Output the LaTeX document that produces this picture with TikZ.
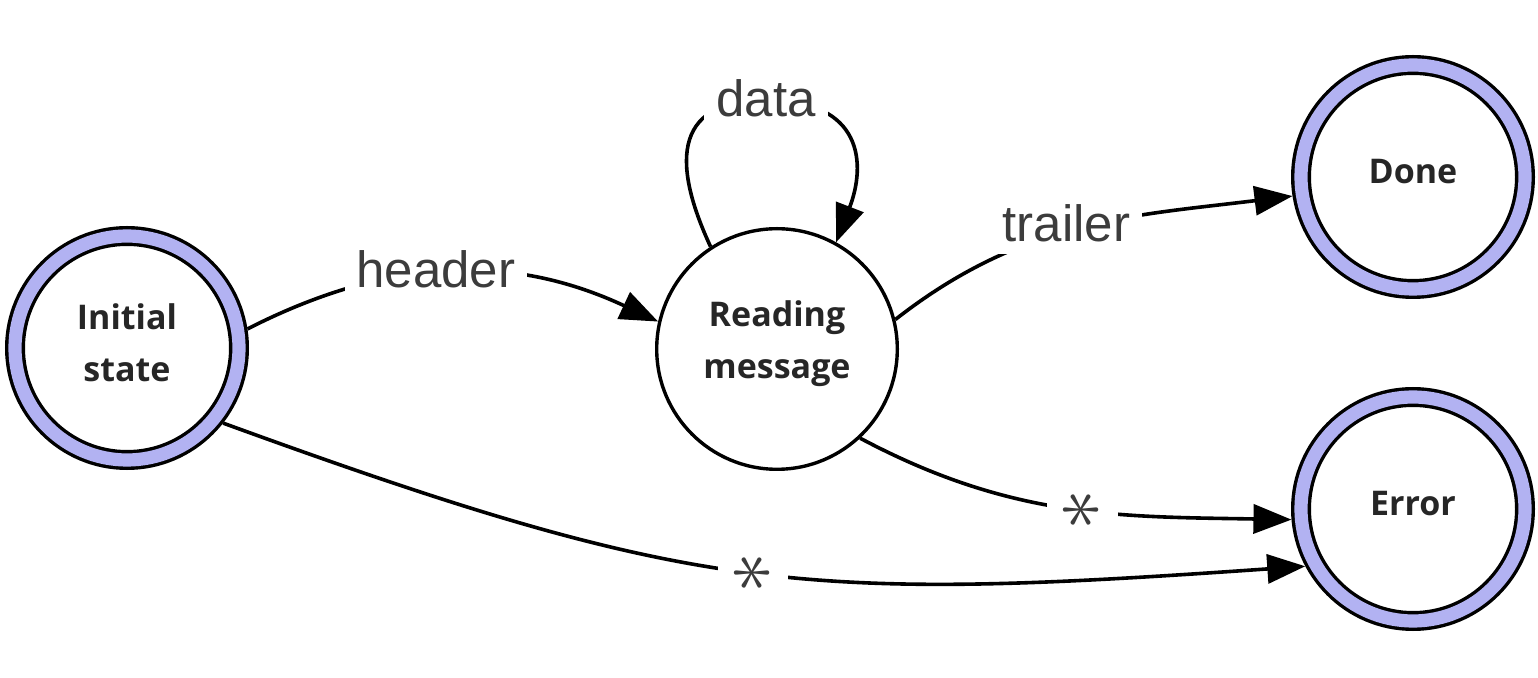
\documentclass[tikz,border=0pt]{standalone}
\usepackage{fontspec}
\usepackage{graphicx}
\setmainfont{Liberation Sans}
\newfontfamily\statefont{Open Sans}
\usetikzlibrary{arrows.meta}
\definecolor{ring}{RGB}{178,178,242}
\definecolor{lbl}{RGB}{60,60,60}
\begin{document}
\begin{tikzpicture}[x=0.5pt,y=-0.5pt,
  statetext/.style={align=center, text=black!85, inner sep=0pt, yshift=2.5pt,
    font=\statefont\bfseries\fontsize{17}{26}\selectfont},
  statenode/.style={circle, draw=black, line width=1.7pt, minimum size=120.3pt,
    inner sep=0pt},
  finalnode/.style={statenode, double=ring, double distance=6.6pt,
    minimum size=112pt, outer sep=5pt},
  edge/.style={line width=1.8pt, -{Triangle[length=19pt,width=14.5pt]}},
  lab/.style={fill=white, inner sep=6pt, text=lbl,
    font=\fontsize{25.5}{28}\selectfont},
  star/.style={fill=white, inner sep=8pt, text=lbl, rotate=90}
]
\useasboundingbox (0,0) rectangle (1538,678);
\node[finalnode, label={[statetext]center:Initial\\state}] (init) at (127,348) {};
\node[statenode, label={[statetext]center:Reading\\message}] (read) at (777,349) {};
\node[finalnode, label={[statetext]center:Done}] (done) at (1413,177) {};
\node[finalnode, label={[statetext]center:Error}] (err)  at (1413,509) {};

\draw[edge] (init.9) to[out=27,in=155] node[lab,pos=0.46,yshift=2pt] {header} (read.167);
\draw[edge] (read.123) .. controls (675,170) and (668,100) .. (766,100)
  node[lab,yshift=1pt] {data}
  .. controls (864,100) and (866,165) .. (read.61);
\draw[edge] (read.14) to[out=38,in=187] node[lab,pos=0.46,yshift=4pt] {trailer} (done.189);
\draw[edge] (read.-47) to[out=-28,in=179] node[star,pos=0.53,yshift=-1pt] {\scalebox{1.65}{\fontsize{24.88}{25}\selectfont$\ast$}} (err.185);
\draw[edge] (init.-38) to[out=-20,in=184,looseness=1.18] node[star,pos=0.5] {\scalebox{1.65}{\fontsize{24.88}{25}\selectfont$\ast$}} (err.208);
\end{tikzpicture}
\end{document}
